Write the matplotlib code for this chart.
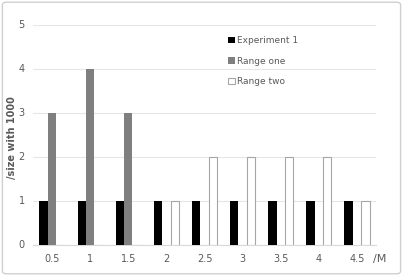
import matplotlib
matplotlib.use("Agg")
import matplotlib.pyplot as plt
from matplotlib.patches import FancyBboxPatch
import numpy as np

categories = ["0.5", "1", "1.5", "2", "2.5", "3", "3.5", "4", "4.5"]
experiment1 = [1, 1, 1, 1, 1, 1, 1, 1, 1]
range_one = [3, 4, 3, 0, 0, 0, 0, 0, 0]
range_two = [0, 0, 0, 1, 2, 2, 2, 2, 1]
y_ticks = [0, 1, 2, 3, 4, 5]

fig = plt.figure(figsize=(4.03, 2.76), dpi=100)
fig.patch.set_facecolor("white")
fig.patches.append(FancyBboxPatch((0.006, 0.008), 0.988, 0.984,
                                  boxstyle="round,pad=0,rounding_size=0.01",
                                  transform=fig.transFigure, fill=False,
                                  edgecolor="#d0d0d0", linewidth=1.0))

ax = fig.add_axes([33/403, 1-244.5/276, 343/403, 220/276])
x = np.arange(len(categories))
w = 0.22
tc = "#595959"
ax.bar(x - w, experiment1, w, color="black", label="Experiment 1", zorder=3)
ax.bar(x, range_one, w, color="#7f7f7f", label="Range one", zorder=3)
ax.bar(x + w, range_two, w, color="white", edgecolor="#a6a6a6", linewidth=0.8,
       label="Range two", zorder=3)

ax.set_xlim(-0.5, len(categories) - 0.5)
ax.set_ylim(0, 5)
ax.set_yticks(y_ticks)
ax.set_xticks(x)
ax.set_xticklabels(categories)
ax.tick_params(axis="both", length=0, labelsize=7, labelcolor=tc)
ax.tick_params(axis="y", pad=6)
ax.tick_params(axis="x", pad=7)
ax.grid(axis="y", color="#e6e6e6", linewidth=0.8, zorder=0)
for s in ["top", "right", "left"]:
    ax.spines[s].set_visible(False)
ax.spines["bottom"].set_color("#d9d9d9")
ax.spines["bottom"].set_linewidth(0.8)

fig.text(12/403, 1-138/276, "/size with 1000", fontsize=7, color=tc,
         rotation=90, va="center", ha="center", fontweight="bold")
fig.text(373/403, 1-259/276, "/M", fontsize=8, color=tc, va="center", ha="left")

leg = ax.legend(loc="upper left", bbox_to_anchor=(0.546, 0.985), frameon=False,
                fontsize=6.5, handlelength=0.7, handleheight=0.7,
                handletextpad=0.3, labelspacing=1.3, labelcolor=tc)

fig.savefig("out.png", dpi=100)
